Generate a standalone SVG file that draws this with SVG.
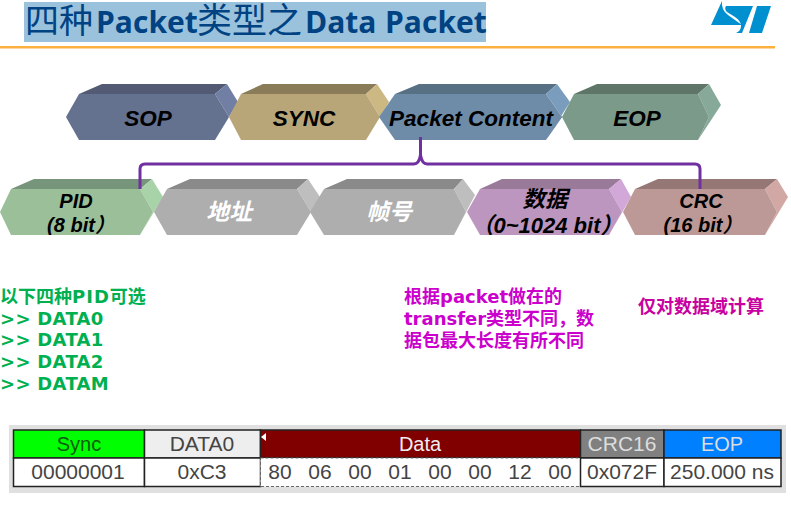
<svg xmlns="http://www.w3.org/2000/svg" width="791" height="510" viewBox="0 0 791 510">
<style>
text{font-family:"Liberation Sans","Noto Sans CJK SC",sans-serif}
.t{font-size:34px;fill:#004282;font-family:"Noto Sans CJK SC",sans-serif}
.tl{font-size:30px;font-weight:700;fill:#004282;font-family:"Open Sans",sans-serif}
.l{font-size:22.500px;font-weight:700;font-style:italic;fill:#000;text-anchor:middle}
.lw{font-size:23px;font-weight:700;font-style:italic;fill:#fff;text-anchor:middle}
.g{font-size:18px;font-weight:700;fill:#00b050;font-family:"DejaVu Sans","Noto Sans CJK SC",sans-serif}
.d{letter-spacing:.3px}
.m{font-size:18px;font-weight:700;fill:#cc00cc;font-family:"DejaVu Sans","Noto Sans CJK SC",sans-serif}
.c{font-size:21px;text-anchor:middle;fill:#444}
.cell{stroke:#222;stroke-width:1.5}
</style>
<defs>
<clipPath id="row2"><rect x="0" y="150" width="791" height="85"/></clipPath>
</defs>
<rect x="24" y="2" width="462" height="40" fill="#9ac2dc"/>
<g id="title">
<text class="t" x="25" y="33">四种</text>
<text class="tl" x="96" y="33">Packet</text>
<text class="t" x="197" y="33" style="font-size:35px">类型之</text>
<text class="tl" x="305" y="33">Data</text>
<text class="tl" x="385" y="33">Packet</text>
</g>
<rect x="0" y="46" width="775" height="2.500" fill="#fbb040"/>
<g id="logo" fill="#0090cf">
<path d="M711 25L722 1Q721 10 728 15L742 25Z"/>
<path d="M726 6H753L742 33H736Q741 31 741 26Q741 21 735 17L727 12Q724 9 726 6Z"/>
<path d="M757 6H771L762 33H749Z"/>
</g>
<g id="sop">
<path d="M79 94L102 84H227L215 94Z" fill="#525b73"/>
<path d="M215 94L227 84L238 102L215 140L229 117Z" fill="#707fa3"/>
<path d="M66 117L79 94H215L229 117L215 140H79Z" fill="#64718f"/>
<text class="l" x="148" y="126">SOP</text>
</g>
<g id="sync">
<path d="M241 94L263 84H377L366 94Z" fill="#8a7c59"/>
<path d="M366 94L377 84L389 102L366 140L380 117Z" fill="#ccb883"/>
<path d="M229 117L241 94H366L380 117L366 140H241Z" fill="#b9a678"/>
<text class="l" x="304" y="126">SYNC</text>
</g>
<g id="packet-content">
<path d="M395 94L419 84H557L546 94Z" fill="#577083"/>
<path d="M546 94L557 84L570 102L546 140L562 117Z" fill="#7a9dbd"/>
<path d="M379 117L395 94H546L562 117L546 140H395Z" fill="#6e8ca8"/>
<text class="l" x="471" y="126">Packet Content</text>
</g>
<g id="eop">
<path d="M574 94L597 84H709L698 94Z" fill="#5f7568"/>
<path d="M698 94L709 84L721 105L698 140L709 117Z" fill="#87a99a"/>
<path d="M562 117L574 94H698L709 117L698 140H574Z" fill="#7c9a8a"/>
<text class="l" x="637" y="126">EOP</text>
</g>
<g id="pid">
<path d="M11 189L34 179H152L140 189Z" fill="#76957a"/>
<path d="M140 189L152 179L163 197L140 235L153 212Z" fill="#a8d3a8"/>
<path d="M0 212L11 189H140L153 212L140 235H11Z" fill="#9abf99"/>
<text class="l" style="font-size:20px" x="76" y="208">PID</text>
<text class="l" style="font-size:20px" clip-path="url(#row2)" x="81" y="232">(8 bit）</text>
</g>
<g id="addr">
<path d="M167 189L190 179H308L297 189Z" fill="#8a8a8a"/>
<path d="M297 189L308 179L320 197L297 235L311 212Z" fill="#bebebe"/>
<path d="M154 212L167 189H297L311 212L297 235H167Z" fill="#aeaeae"/>
<text class="lw" x="229" y="220">地址</text>
</g>
<g id="frame">
<path d="M324 189L347 179H463L454 189Z" fill="#8a8a8a"/>
<path d="M454 189L463 179L475 195L454 235L466 212Z" fill="#bebebe"/>
<path d="M310 212L324 189H454L466 212L454 235H324Z" fill="#aeaeae"/>
<text class="lw" x="389" y="220">帧号</text>
</g>
<g id="data">
<path d="M480 189L502 179H621L609 189Z" fill="#997a99"/>
<path d="M609 189L621 179L631 197L609 235L622 212Z" fill="#d2a8d8"/>
<path d="M467 212L480 189H609L622 212L609 235H480Z" fill="#bc96be"/>
<text class="l" x="545" y="207">数据</text>
<text class="l" style="font-size:22px" clip-path="url(#row2)" x="547" y="233">（0~1024 bit）</text>
</g>
<g id="crc">
<path d="M635 189L658 179H777L765 189Z" fill="#957876"/>
<path d="M765 189L777 179L788 197L765 235L777 212Z" fill="#d2a8a5"/>
<path d="M623 212L635 189H765L777 212L765 235H635Z" fill="#bc9996"/>
<text class="l" style="font-size:20px" x="701" y="208">CRC</text>
<text class="l" style="font-size:20px" clip-path="url(#row2)" x="703" y="232">(16 bit）</text>
</g>
<g id="connectors" fill="none" stroke="#7030a0" stroke-width="3">
<path d="M140 189V169Q140 164 145 164H414Q419 164 420.500 155Q422 164 427 164H695Q700 164 700 169V189"/>
<path d="M420.500 137V156"/>
</g>
<g id="note-pid">
<text class="g" x="0" y="303">以下四种<tspan letter-spacing="1">PID</tspan>可选</text>
<text class="g d" x="0" y="325">&gt;&gt; DATA0</text>
<text class="g d" x="0" y="346">&gt;&gt; DATA1</text>
<text class="g d" x="0" y="368">&gt;&gt; DATA2</text>
<text class="g d" x="0" y="390">&gt;&gt; DATAM</text>
</g>
<g id="note-transfer">
<text class="m" x="404" y="303">根据packet做在的</text>
<text class="m" x="404" y="325">transfer类型不同，数</text>
<text class="m" x="404" y="347">据包最大长度有所不同</text>
</g>
<g id="note-crc"><text class="m" x="638" y="313" style="fill:#c800a0">仅对数据域计算</text></g>
<g id="table">
<rect x="9" y="425" width="777" height="68" fill="#e0e0e0"/>
<rect class="cell" x="13.500" y="430" width="131" height="28" fill="#00ff00"/>
<rect class="cell" x="144.500" y="430" width="116" height="28" fill="#eeeeee"/>
<rect class="cell" x="260.500" y="430" width="320" height="28" fill="#800000"/>
<rect class="cell" x="580.500" y="430" width="83.500" height="28" fill="#808080"/>
<rect class="cell" x="664" y="430" width="117" height="28" fill="#0080ff"/>
<rect class="cell" x="13.500" y="458" width="131" height="28.500" fill="#fff"/>
<rect class="cell" x="144.500" y="458" width="116" height="28.500" fill="#fff"/>
<rect x="260.500" y="458" width="320" height="28.500" fill="#fff" stroke="#666" stroke-dasharray="3 2"/>
<rect class="cell" x="580.500" y="458" width="83.500" height="28.500" fill="#fff"/>
<rect class="cell" x="664" y="458" width="117" height="28.500" fill="#fff"/>
<path d="M261 437L266 433V441Z" fill="#fff"/>
<text class="c" x="79" y="451" style="fill:#0b5c0b;font-size:20px">Sync</text>
<text class="c" x="202" y="451">DATA0</text>
<text class="c" x="420" y="451" style="fill:#eee;font-size:20px">Data</text>
<text class="c" x="622" y="451" style="fill:#ddd">CRC16</text>
<text class="c" x="722" y="451" style="fill:#ddd;font-size:20px">EOP</text>
<text class="c" x="78" y="479">00000001</text>
<text class="c" x="202" y="479">0xC3</text>
<text class="c" x="280" y="479">80</text>
<text class="c" x="320" y="479">06</text>
<text class="c" x="360" y="479">00</text>
<text class="c" x="400" y="479">01</text>
<text class="c" x="440" y="479">00</text>
<text class="c" x="480" y="479">00</text>
<text class="c" x="520" y="479">12</text>
<text class="c" x="560" y="479">00</text>
<text class="c" x="622" y="479">0x072F</text>
<text class="c" x="722" y="479">250.000 ns</text>
</g>
</svg>
